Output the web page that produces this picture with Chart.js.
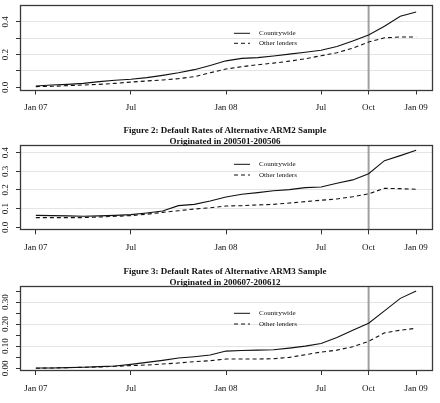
<!DOCTYPE html>
<html>
<head>
<meta charset="utf-8">
<script src="https://cdn.jsdelivr.net/npm/chart.js@4.4.1/dist/chart.umd.min.js"></script>
<style>
  body { margin: 0; background: #fff; }
  #wrap { position: relative; width: 440px; height: 403px; overflow: hidden; }
  canvas { position: absolute; left: 0; }
  .title { position: absolute; left: 0; width: 450px; text-align: center; font: bold 9px/11.5px "Liberation Serif", serif; color: #111; z-index: 2; }
</style>
</head>
<body>
<div id="wrap">
  <canvas id="chart1" width="440" height="118" style="top:0px"></canvas>
  <canvas id="chart2" width="440" height="117" style="top:143px"></canvas>
  <canvas id="chart3" width="440" height="120" style="top:283px"></canvas>
  <div class="title" style="top:124.5px">Figure 2: Default Rates of Alternative ARM2 Sample<br>Originated in 200501-200506</div>
  <div class="title" style="top:265.5px">Figure 3: Default Rates of Alternative ARM3 Sample<br>Originated in 200607-200612</div>
</div>
<script>
// Months from Jan 07 to Jan 09 (one point per month)
const months = ['Jan 07', 'Feb 07', 'Mar 07', 'Apr 07', 'May 07', 'Jun 07', 'Jul 07', 'Aug 07', 'Sep 07', 'Oct 07', 'Nov 07', 'Dec 07',
    'Jan 08', 'Feb 08', 'Mar 08', 'Apr 08', 'May 08', 'Jun 08', 'Jul 08', 'Aug 08', 'Sep 08', 'Oct 08', 'Nov 08', 'Dec 08', 'Jan 09'];

// x axis tick positions (month index) and labels
const xTickMonths = [0, 6, 12, 18, 21, 24];
const xTickLabels = ['Jan 07', 'Jul', 'Jan 08', 'Jul', 'Oct', 'Jan 09'];
const markerMonth = 21; // Oct 08

// Panel 1
const cw1 = [0.008, 0.014, 0.018, 0.024, 0.035, 0.043, 0.049, 0.059, 0.073, 0.089, 0.108, 0.134,
    0.162, 0.177, 0.182, 0.192, 0.203, 0.215, 0.227, 0.25, 0.284, 0.32, 0.374, 0.435, 0.461];
const other1 = [0.004, 0.006, 0.01, 0.014, 0.018, 0.024, 0.032, 0.039, 0.045, 0.053, 0.065, 0.089,
    0.112, 0.126, 0.138, 0.148, 0.16, 0.175, 0.193, 0.212, 0.24, 0.277, 0.303, 0.308, 0.308];
const yTicks1 = [0, 0.1, 0.2, 0.3, 0.4];
const yLabels1 = ['0.0', '', '0.2', '', '0.4'];

// Panel 2
const cw2 = [0.064, 0.0625, 0.061, 0.059, 0.061, 0.064, 0.068, 0.077, 0.0875, 0.116, 0.123, 0.141,
    0.1625, 0.177, 0.186, 0.196, 0.202, 0.2125, 0.216, 0.236, 0.254, 0.2875, 0.357, 0.384, 0.4125];
const other2 = [0.052, 0.052, 0.052, 0.052, 0.055, 0.059, 0.0625, 0.07, 0.08, 0.089, 0.098, 0.105,
    0.114, 0.116, 0.12, 0.123, 0.13, 0.1375, 0.145, 0.152, 0.164, 0.179, 0.209, 0.207, 0.204];
const yTicks2 = [0, 0.1, 0.2, 0.3, 0.4];
const yLabels2 = ['0.0', '0.1', '0.2', '0.3', '0.4'];

// Panel 3
const cw3 = [0.0015, 0.0015, 0.003, 0.0045, 0.0075, 0.0105, 0.018, 0.027, 0.036, 0.0465, 0.0525, 0.06,
    0.078, 0.081, 0.0825, 0.084, 0.0915, 0.1005, 0.1125, 0.1395, 0.1725, 0.204, 0.26, 0.317, 0.35];
const other3 = [0, 0.0015, 0.003, 0.0045, 0.006, 0.009, 0.012, 0.015, 0.0195, 0.024, 0.03, 0.0345,
    0.042, 0.042, 0.042, 0.0435, 0.0495, 0.0615, 0.0735, 0.0825, 0.0975, 0.1225, 0.1605, 0.1725, 0.1815];
const yTicks3 = [0, 0.05, 0.1, 0.15, 0.2, 0.25, 0.3, 0.35];
const yLabels3 = ['0.00', '', '0.10', '', '0.20', '', '0.30', ''];

const seriesNames = ['Countrywide', 'Other lenders'];

const FONT = '"Liberation Serif", serif';
const INK = '#111';

// Frame, Oct 08 marker, rotated y labels and the legend
const panelDecor = {
    id: 'panelDecor',
    beforeDatasetsDraw(chart, args, opts) {
        const { ctx, chartArea } = chart;
        const x = chart.scales.x.getPixelForValue(markerMonth);
        ctx.save();
        ctx.strokeStyle = '#a0a0a0';
        ctx.lineWidth = 2;
        ctx.beginPath();
        ctx.moveTo(x, chartArea.top);
        ctx.lineTo(x, chartArea.bottom);
        ctx.stroke();
        ctx.restore();
    },
    afterDraw(chart, args, opts) {
        const { ctx, chartArea } = chart;
        const yScale = chart.scales.y;
        ctx.save();
        ctx.strokeStyle = '#3a3a3a';
        ctx.lineWidth = 1.3;
        ctx.strokeRect(Math.round(chartArea.left) + 0.5, Math.round(chartArea.top) + 0.5,
            Math.round(chartArea.right - chartArea.left), Math.round(chartArea.bottom - chartArea.top));

        // y tick labels, rotated like R's default
        ctx.fillStyle = INK;
        ctx.font = '9px ' + FONT;
        ctx.textAlign = 'center';
        ctx.textBaseline = 'middle';
        yScale.ticks.forEach((t, i) => {
            const label = opts.yLabels[i];
            if (!label) return;
            ctx.save();
            ctx.translate(6, yScale.getPixelForValue(t.value));
            ctx.rotate(-Math.PI / 2);
            ctx.fillText(label, 0, 0);
            ctx.restore();
        });

        // legend
        ctx.font = '7px ' + FONT;
        ctx.textAlign = 'left';
        seriesNames.forEach((name, i) => {
            const y = opts.legendY[i];
            ctx.strokeStyle = INK;
            ctx.lineWidth = 1;
            ctx.setLineDash(i === 0 ? [] : [4, 3]);
            ctx.beginPath();
            ctx.moveTo(234, y);
            ctx.lineTo(250, y);
            ctx.stroke();
            ctx.setLineDash([]);
            ctx.fillText(name, 259, y);
        });
        ctx.restore();
    }
};

function toPoints(values) {
    return values.map((v, i) => ({ x: i, y: v }));
}

// light grid only on the 0.1 steps above zero
function gridColor(c) {
    if (!c.tick || c.tick.value <= 0) return 'rgba(0,0,0,0)';
    const tenths = c.tick.value * 10;
    return Math.abs(tenths - Math.round(tenths)) < 1e-6 ? '#e4e4e4' : 'rgba(0,0,0,0)';
}

function makePanel(id, cw, other, yTicks, yLabels, p) {
    return new Chart(document.getElementById(id), {
        type: 'line',
        data: {
            datasets: [
                { label: seriesNames[0], data: toPoints(cw), borderColor: INK, borderWidth: 1.1, pointRadius: 0, tension: 0, fill: false },
                { label: seriesNames[1], data: toPoints(other), borderColor: INK, borderWidth: 1.1, borderDash: [4, 3], pointRadius: 0, tension: 0, fill: false }
            ]
        },
        options: {
            responsive: false,
            animation: false,
            devicePixelRatio: 1,
            layout: { padding: { top: p.padTop, right: 8, left: 0, bottom: 0 } },
            plugins: {
                legend: { display: false },
                tooltip: { enabled: false },
                panelDecor: { yLabels: yLabels, legendY: p.legendY }
            },
            scales: {
                x: {
                    type: 'linear',
                    min: -1,
                    max: 25,
                    afterBuildTicks: s => { s.ticks = xTickMonths.map(v => ({ value: v })); },
                    afterFit: s => { s.height = p.xHeight; },
                    border: { display: false },
                    grid: { drawOnChartArea: false, color: '#333', tickLength: 5 },
                    ticks: {
                        autoSkip: false,
                        maxRotation: 0,
                        padding: 8,
                        color: INK,
                        font: { family: FONT, size: 9 },
                        callback: v => xTickLabels[xTickMonths.indexOf(v)]
                    }
                },
                y: {
                    min: p.yMin,
                    max: p.yMax,
                    afterBuildTicks: s => { s.ticks = yTicks.map(v => ({ value: v })); },
                    afterFit: s => { s.width = 20; },
                    border: { display: false },
                    grid: { color: gridColor, tickColor: '#333', tickLength: 4 },
                    ticks: { display: false }
                }
            }
        },
        plugins: [panelDecor]
    });
}

makePanel('chart1', cw1, other1, yTicks1, yLabels1,
    { padTop: 5, xHeight: 28.5, yMin: -0.0135, yMax: 0.504, legendY: [33.3, 43.3] });
makePanel('chart2', cw2, other2, yTicks2, yLabels2,
    { padTop: 2, xHeight: 30.7, yMin: -0.0107, yMax: 0.441, legendY: [21.3, 32] });
makePanel('chart3', cw3, other3, yTicks3, yLabels3,
    { padTop: 3, xHeight: 33, yMin: -0.0077, yMax: 0.373, legendY: [30.3, 41] });
</script>
</body>
</html>
